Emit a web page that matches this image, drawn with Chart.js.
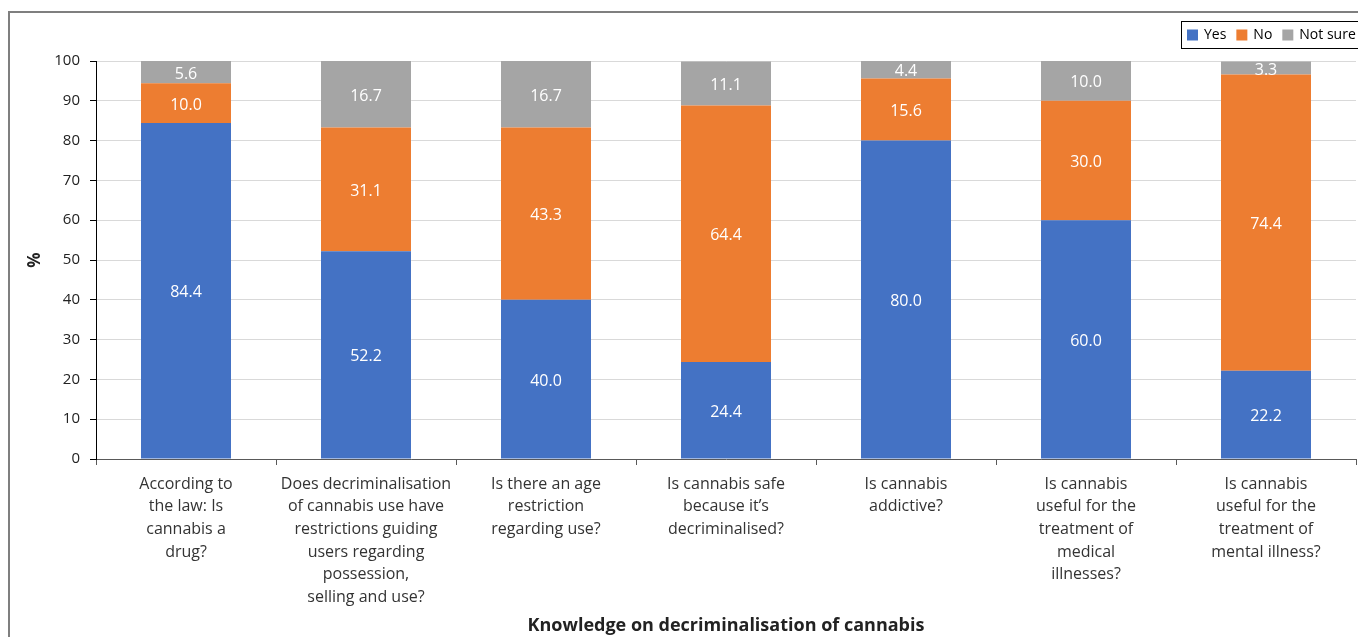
<!DOCTYPE html>
<html>
<head>
<meta charset="utf-8">
<script src="https://cdn.jsdelivr.net/npm/chart.js@4/dist/chart.umd.min.js"></script>
<style>
html,body{margin:0;padding:0;background:#fff;overflow:hidden;}
#wrap{position:relative;width:1358px;height:637px;}
</style>
</head>
<body>
<div id="wrap"><canvas id="c" width="1358" height="637"></canvas></div>
<script>
const categories = [
  ["According to","the law: Is","cannabis a","drug?"],
  ["Does decriminalisation","of cannabis use have","restrictions guiding","users regarding","possession,","selling and use?"],
  ["Is there an age","restriction","regarding use?"],
  ["Is cannabis safe","because it\u2019s","decriminalised?"],
  ["Is cannabis","addictive?"],
  ["Is cannabis","useful for the","treatment of","medical","illnesses?"],
  ["Is cannabis","useful for the","treatment of","mental illness?"]
];
const seriesNames = ["Yes","No","Not sure"];
const yesValues = [84.4, 52.2, 40.0, 24.4, 80.0, 60.0, 22.2];
const noValues = [10.0, 31.1, 43.3, 64.4, 15.6, 30.0, 74.4];
const notSureValues = [5.6, 16.7, 16.7, 11.1, 4.4, 10.0, 3.3];
const seriesColors = ["#4472C4", "#ED7D31", "#A5A5A5"];
const yTicks = [0,10,20,30,40,50,60,70,80,90,100];
const xTitle = "Knowledge on decriminalisation of cannabis";
const yTitle = "%";

const FONT = "'Open Sans', Lato, sans-serif";
Chart.defaults.font.family = FONT;

const framePlugin = {
  id: 'frame',
  beforeDraw(chart) {
    const ctx = chart.ctx;
    ctx.save();
    ctx.fillStyle = '#fff';
    ctx.fillRect(0, 0, chart.width, chart.height);
    ctx.strokeStyle = '#7f7f7f';
    ctx.lineWidth = 2;
    ctx.beginPath();
    ctx.moveTo(9, chart.height + 5);
    ctx.lineTo(9, 12);
    ctx.lineTo(chart.width + 5, 12);
    ctx.stroke();
    ctx.restore();
  }
};

const labelPlugin = {
  id: 'segLabels',
  afterDatasetsDraw(chart) {
    const ctx = chart.ctx;
    ctx.save();
    ctx.fillStyle = '#fff';
    ctx.font = "16px " + FONT;
    ctx.textAlign = 'center';
    ctx.textBaseline = 'middle';
    chart.data.datasets.forEach((ds, i) => {
      const meta = chart.getDatasetMeta(i);
      meta.data.forEach((el, j) => {
        const p = el.getCenterPoint();
        ctx.fillText(Number(ds.data[j]).toFixed(1), p.x, p.y + 2);
      });
    });
    ctx.restore();
  }
};

const legendPlugin = {
  id: 'boxLegend',
  afterDraw(chart) {
    const ctx = chart.ctx;
    ctx.save();
    const left = 1181, top = 21, h = 27;
    ctx.strokeStyle = '#000';
    ctx.lineWidth = 1;
    ctx.strokeRect(left + 0.5, top + 0.5, chart.width + 10 - left, h);
    ctx.font = "14px " + FONT;
    ctx.textBaseline = 'middle';
    ctx.textAlign = 'left';
    let x = 1187;
    const cy = top + h / 2 + 0.5;
    chart.data.datasets.forEach(ds => {
      ctx.fillStyle = ds.backgroundColor;
      ctx.fillRect(x, cy - 5.5, 11, 11);
      x += 17;
      ctx.fillStyle = '#000';
      ctx.fillText(ds.label, x, cy);
      x += ctx.measureText(ds.label).width + 10;
    });
    ctx.restore();
  }
};

new Chart(document.getElementById('c'), {
  type: 'bar',
  data: {
    labels: categories,
    datasets: [
      { label: seriesNames[0], data: yesValues, backgroundColor: seriesColors[0] },
      { label: seriesNames[1], data: noValues, backgroundColor: seriesColors[1] },
      { label: seriesNames[2], data: notSureValues, backgroundColor: seriesColors[2] }
    ]
  },
  options: {
    responsive: false,
    animation: false,
    devicePixelRatio: 1,
    categoryPercentage: 1,
    barPercentage: 0.5,
    layout: { padding: { left: 0, right: 2, top: 61, bottom: 0 } },
    plugins: {
      legend: { display: false },
      tooltip: { enabled: false },
      title: { display: false }
    },
    scales: {
      x: {
        stacked: true,
        grid: { display: true, drawOnChartArea: false, drawTicks: true, tickLength: 6, tickColor: '#595959', offset: true },
        border: { display: true, color: '#595959', width: 1 },
        ticks: { color: '#333', font: { size: 16, lineHeight: 1.41 }, padding: 8, maxRotation: 0, autoSkip: false },
        title: { display: true, text: xTitle, color: '#222', font: { size: 18, weight: 'bold' }, padding: { top: 0, bottom: 0 } },
        afterFit(scale) { scale.height = 178; }
      },
      y: {
        stacked: true,
        min: 0,
        max: 100,
        afterBuildTicks(scale) { scale.ticks = yTicks.map(v => ({ value: v })); },
        grid: { color: '#d9d9d9', drawTicks: true, tickLength: 6, tickColor: '#000' },
        border: { display: true, color: '#000', width: 1 },
        ticks: { color: '#222', font: { size: 15 }, padding: 10 },
        title: { display: true, text: yTitle, color: '#222', font: { size: 17, weight: 'bold' }, padding: { top: 25, bottom: 0 } },
        afterFit(scale) { scale.width = 96; }
      }
    }
  },
  plugins: [framePlugin, labelPlugin, legendPlugin]
});
</script>
</body>
</html>
